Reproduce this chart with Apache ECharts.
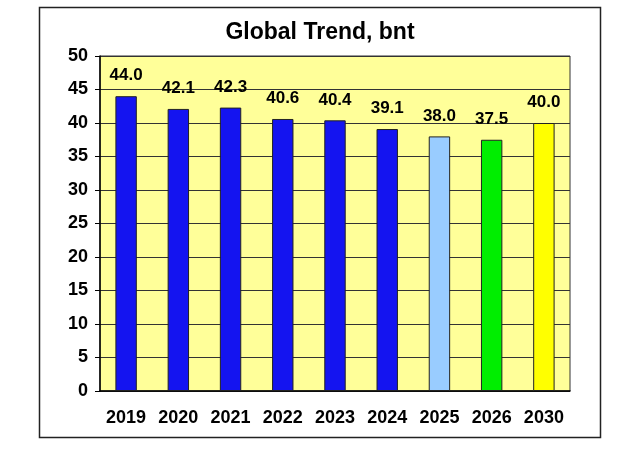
<!DOCTYPE html>
<html>
<head>
<meta charset="utf-8">
<script src="https://cdn.jsdelivr.net/npm/echarts@6/dist/echarts.min.js"></script>
<style>
  html, body { margin: 0; padding: 0; background: #fff; }
  #chart { width: 640px; height: 456px; }
</style>
</head>
<body>
<div id="chart"></div>
<script>
var years = ['2019', '2020', '2021', '2022', '2023', '2024', '2025', '2026', '2030'];
var values = [44.0, 42.1, 42.3, 40.6, 40.4, 39.1, 38.0, 37.5, 40.0];
var barColors = ['#1414f0', '#1414f0', '#1414f0', '#1414f0', '#1414f0', '#1414f0', '#99ccff', '#00ee00', '#ffff00'];

var chart = echarts.init(document.getElementById('chart'));

var option = {
    animation: false,
    title: {
        text: 'Global Trend, bnt',
        left: 'center',
        top: 16,
        textStyle: {
            fontFamily: 'Liberation Sans',
            fontSize: 23,
            fontWeight: 'bold',
            color: '#000'
        }
    },
    graphic: [
        {
            type: 'rect',
            shape: { x: 39.5, y: 7.5, width: 561, height: 430 },
            style: { fill: 'none', stroke: '#222', lineWidth: 1.5 },
            z: -1
        }
    ],
    grid: {
        left: 100,
        right: 70,
        top: 56,
        bottom: 65,
        show: true,
        backgroundColor: '#ffff99',
        borderColor: '#333',
        borderWidth: 1
    },
    xAxis: {
        type: 'category',
        data: years,
        axisLine: { lineStyle: { color: '#000', width: 1.5 } },
        axisTick: { length: 5, lineStyle: { color: '#000' } },
        axisLabel: {
            margin: 18,
            fontFamily: 'Liberation Sans',
            fontSize: 18,
            fontWeight: 'bold',
            color: '#000'
        }
    },
    yAxis: {
        type: 'value',
        min: 0,
        max: 50,
        interval: 5,
        axisLine: { show: true, lineStyle: { color: '#000', width: 1.5 } },
        axisTick: { show: true, length: 5, lineStyle: { color: '#000' } },
        splitLine: { lineStyle: { color: '#333', width: 1 } },
        axisLabel: {
            margin: 12,
            fontFamily: 'Liberation Sans',
            fontSize: 18,
            fontWeight: 'bold',
            color: '#000'
        }
    },
    series: [
        {
            type: 'bar',
            barWidth: '41%',
            data: values.map(function(v, i) {
                return { value: v, itemStyle: { color: barColors[i] } };
            }),
            itemStyle: { borderColor: '#222', borderWidth: 1 },
            label: {
                show: true,
                position: 'top',
                distance: 12,
                formatter: function(p) { return p.value.toFixed(1); },
                fontFamily: 'Liberation Sans',
                fontSize: 17,
                fontWeight: 'bold',
                color: '#000'
            }
        }
    ]
};

chart.setOption(option);
</script>
</body>
</html>
